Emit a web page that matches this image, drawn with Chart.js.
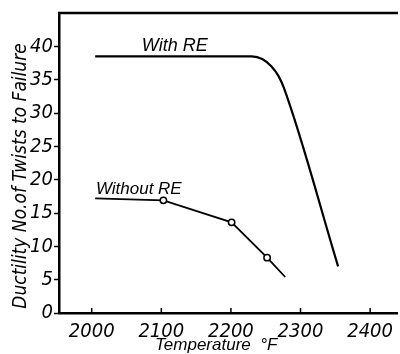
<!DOCTYPE html>
<html>
<head>
<meta charset="utf-8">
<script src="https://cdn.jsdelivr.net/npm/chart.js@4.4.1/dist/chart.umd.min.js"></script>
<style>
  html, body { margin: 0; padding: 0; background: #fff; }
  #wrap { width: 400px; height: 354px; position: relative; }
</style>
</head>
<body>
<div id="wrap"><canvas id="c" width="400" height="354"></canvas></div>
<script>
// ---- data ----
const withRE_T    = [2005, 2230, 2245, 2258, 2268, 2276, 2354];
const withRE_V    = [38.5, 38.5, 38.1, 37.0, 35.6, 33.8, 7.0];
const withoutRE_T = [2005, 2103, 2201, 2252, 2278];
const withoutRE_V = [17.2, 16.9, 13.6, 8.3, 5.4];
const withoutRE_marked = [false, true, true, true, false];
const xTickLabels = [2000, 2100, 2200, 2300, 2400];
const yTickLabels = [0, 5, 10, 15, 20, 25, 30, 35, 40];
const seriesNames = ['With RE', 'Without RE'];
const xTitle = 'Temperature  °F';
const yTitle = 'Ductility No.of Twists to Failure';

const NARROW = '"Liberation Sans Narrow", "DejaVu Sans Condensed", "Liberation Sans", sans-serif';
const WIDE = '"Liberation Sans", "DejaVu Sans", sans-serif';

const toPts = (xs, ys) => xs.map((x, i) => ({x: x, y: ys[i]}));

const decor = {
  id: 'decor',
  afterDraw(chart) {
    const ctx = chart.ctx;
    const a = chart.chartArea;
    const xs = chart.scales.x, ys = chart.scales.y;
    ctx.save();
    ctx.strokeStyle = '#000';
    // top frame line
    ctx.lineWidth = 2.5;
    ctx.beginPath();
    ctx.moveTo(a.left - 1, a.top);
    ctx.lineTo(a.right, a.top);
    ctx.stroke();
    // inside x ticks
    ctx.lineWidth = 1.5;
    xTickLabels.forEach(v => {
      const px = xs.getPixelForValue(v);
      ctx.beginPath();
      ctx.moveTo(px, a.bottom);
      ctx.lineTo(px, a.bottom - 5);
      ctx.stroke();
    });
    ctx.fillStyle = '#000';
    // series labels
    ctx.textBaseline = 'alphabetic';
    ctx.textAlign = 'left';
    ctx.font = 'italic 18px ' + WIDE;
    ctx.fillText(seriesNames[0], xs.getPixelForValue(2072), ys.getPixelForValue(39.3));
    ctx.font = 'italic 17px ' + WIDE;
    ctx.fillText(seriesNames[1], xs.getPixelForValue(2006), ys.getPixelForValue(17.9));
    // x title
    ctx.font = 'italic 17px ' + WIDE;
    ctx.textAlign = 'left';
    ctx.fillText(xTitle, 155, 350);
    // y title
    ctx.translate(26, 176);
    ctx.rotate(-Math.PI / 2);
    ctx.textAlign = 'center';
    ctx.font = 'italic 19px ' + NARROW;
    ctx.fillText(yTitle, 0, 0);
    ctx.restore();
  }
};

new Chart(document.getElementById('c'), {
  type: 'line',
  data: {
    datasets: [
      {
        label: seriesNames[0],
        data: toPts(withRE_T, withRE_V),
        borderColor: '#000',
        borderWidth: 2.2,
        pointRadius: 0,
        cubicInterpolationMode: 'monotone',
        fill: false
      },
      {
        label: seriesNames[1],
        data: toPts(withoutRE_T, withoutRE_V),
        borderColor: '#000',
        borderWidth: 1.8,
        pointRadius: withoutRE_marked.map(m => m ? 3.2 : 0),
        pointBackgroundColor: '#fff',
        pointBorderColor: '#000',
        pointBorderWidth: 1.5,
        tension: 0,
        fill: false
      }
    ]
  },
  options: {
    responsive: false,
    animation: false,
    devicePixelRatio: 1,
    layout: { padding: { top: 10, right: 0, left: 0, bottom: 0 } },
    plugins: { legend: { display: false }, tooltip: { enabled: false } },
    scales: {
      x: {
        type: 'linear',
        min: 1953,
        max: 2440,
        afterBuildTicks: s => { s.ticks = xTickLabels.map(v => ({value: v})); },
        afterFit: s => { s.height = 41; },
        grid: { drawOnChartArea: false, drawTicks: false },
        border: { display: true, color: '#000', width: 2.5 },
        ticks: {
          color: '#000',
          padding: 7,
          maxRotation: 0,
          font: { family: NARROW, size: 20, style: 'italic' },
          callback: v => String(v)
        }
      },
      y: {
        min: 0,
        max: 45,
        afterBuildTicks: s => { s.ticks = yTickLabels.map(v => ({value: v})); },
        afterFit: s => { s.width = 59; },
        grid: { drawOnChartArea: false, drawTicks: true, tickLength: 5, tickColor: '#000', tickWidth: 1.5 },
        border: { display: true, color: '#000', width: 2.5 },
        ticks: {
          color: '#000',
          padding: 1,
          font: { family: NARROW, size: 20, style: 'italic' },
          callback: v => String(v)
        }
      }
    }
  },
  plugins: [decor]
});
</script>
</body>
</html>
